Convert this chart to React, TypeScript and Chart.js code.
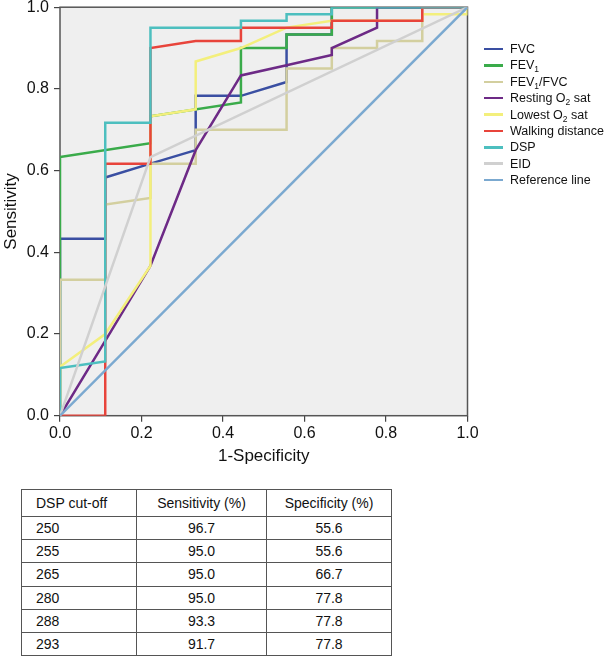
import React, { useEffect, useRef } from "react";
import { Chart, registerables } from "chart.js";

Chart.register(...registerables);

// ROC curve data (x = 1-Specificity, y = Sensitivity)
const fvcX = [0, 0, 0.111, 0.111, 0.222, 0.333, 0.333, 0.444, 0.556, 0.556, 0.667, 0.667, 1];
const fvcY = [0, 0.433, 0.433, 0.583, 0.617, 0.65, 0.783, 0.783, 0.817, 0.933, 0.933, 1, 1];

const fev1X = [0, 0, 0.222, 0.222, 0.444, 0.444, 0.556, 0.556, 0.667, 0.667, 1];
const fev1Y = [0, 0.633, 0.667, 0.733, 0.767, 0.9, 0.9, 0.933, 0.933, 1, 1];

const ratioX = [0, 0, 0.111, 0.111, 0.222, 0.222, 0.333, 0.333, 0.556, 0.556, 0.667, 0.667, 0.778, 0.778, 0.889, 0.889, 1];
const ratioY = [0, 0.333, 0.333, 0.517, 0.533, 0.617, 0.617, 0.7, 0.7, 0.85, 0.85, 0.9, 0.9, 0.917, 0.917, 1, 1];

const restX = [0, 0.111, 0.222, 0.333, 0.444, 0.556, 0.667, 0.667, 0.778, 0.778, 1];
const restY = [0, 0.183, 0.367, 0.65, 0.833, 0.858, 0.883, 0.9, 0.95, 1, 1];

const lowX = [0, 0, 0.111, 0.222, 0.222, 0.333, 0.333, 0.444, 0.556, 0.667, 0.889, 0.889, 1, 1];
const lowY = [0, 0.12, 0.2, 0.367, 0.733, 0.75, 0.867, 0.9, 0.95, 0.967, 0.967, 0.983, 0.983, 1];

const walkX = [0, 0.111, 0.111, 0.222, 0.222, 0.333, 0.444, 0.444, 0.667, 0.667, 0.889, 0.889, 1];
const walkY = [0, 0, 0.617, 0.617, 0.9, 0.917, 0.917, 0.95, 0.95, 0.967, 0.967, 1, 1];

const dspX = [0, 0, 0.111, 0.111, 0.222, 0.222, 0.444, 0.444, 0.556, 0.556, 0.667, 0.667, 1];
const dspY = [0, 0.117, 0.133, 0.717, 0.717, 0.95, 0.95, 0.967, 0.967, 0.983, 0.983, 1, 1];

const eidX = [0, 0.222, 1];
const eidY = [0, 0.633, 1];

const refX = [0, 1];
const refY = [0, 1];

const yTicks = [0, 0.2, 0.4, 0.6, 0.8, 1.0];

// Table data
const tableHeaders = ["DSP cut-off", "Sensitivity (%)", "Specificity (%)"];
const cutoffs = ["250", "255", "265", "280", "288", "293"];
const sensitivities = ["96.7", "95.0", "95.0", "95.0", "93.3", "91.7"];
const specificities = ["55.6", "55.6", "66.7", "77.8", "77.8", "77.8"];

type Series = { name: string; sub?: [string, string, string]; xs: number[]; ys: number[]; color: string };

const series: Series[] = [
  { name: "FVC", xs: fvcX, ys: fvcY, color: "#3a4fa2" },
  { name: "FEV", sub: ["FEV", "1", ""], xs: fev1X, ys: fev1Y, color: "#3aab4a" },
  { name: "FEV/FVC", sub: ["FEV", "1", "/FVC"], xs: ratioX, ys: ratioY, color: "#d3cf9f" },
  { name: "Resting O sat", sub: ["Resting O", "2", " sat"], xs: restX, ys: restY, color: "#6d2a86" },
  { name: "Lowest O sat", sub: ["Lowest O", "2", " sat"], xs: lowX, ys: lowY, color: "#f3ef7c" },
  { name: "Walking distance", xs: walkX, ys: walkY, color: "#e8443b" },
  { name: "DSP", xs: dspX, ys: dspY, color: "#4dbfbf" },
  { name: "EID", xs: eidX, ys: eidY, color: "#d0d0d0" },
  { name: "Reference line", xs: refX, ys: refY, color: "#7ba9d0" },
];

const FONT = "'Liberation Sans', Arial, Helvetica, sans-serif";

const framePlugin = {
  id: "frame",
  beforeDatasetsDraw(chart: any) {
    const { ctx, chartArea } = chart;
    const { left, top, right, bottom } = chartArea;
    ctx.save();
    ctx.fillStyle = "#efefef";
    ctx.fillRect(left, top, right - left, bottom - top);
    ctx.strokeStyle = "#555555";
    ctx.lineWidth = 1.5;
    ctx.strokeRect(left, top, right - left, bottom - top);
    ctx.restore();
  },
  afterDraw(chart: any) {
    const { ctx, chartArea } = chart;
    const { left, top, right, bottom } = chartArea;
    ctx.save();
    ctx.fillStyle = "#111";
    ctx.font = `17px ${FONT}`;
    ctx.textAlign = "center";
    ctx.textBaseline = "middle";
    ctx.fillText("1-Specificity", (left + right) / 2, 456);
    ctx.translate(11, (top + bottom) / 2);
    ctx.rotate(-Math.PI / 2);
    ctx.fillText("Sensitivity", 0, 0);
    ctx.restore();
  },
};

function ChartView() {
  const ref = useRef<HTMLCanvasElement>(null);
  useEffect(() => {
    if (!ref.current) return;
    const datasets = series.map((s, i) => ({
      label: s.name,
      data: s.xs.map((x, k) => ({ x, y: s.ys[k] })),
      borderColor: s.color,
      backgroundColor: s.color,
      borderWidth: 2.5,
      pointRadius: 0,
      showLine: true,
      tension: 0,
      fill: false,
      order: series.length - i,
    }));
    const chart = new Chart(ref.current, {
      type: "scatter",
      data: { datasets },
      plugins: [framePlugin],
      options: {
        animation: false,
        responsive: false,
        devicePixelRatio: 1,
        layout: { padding: { top: 7.2, right: 145.5, left: 0, bottom: 0 } },
        plugins: { legend: { display: false }, tooltip: { enabled: false } },
        scales: {
          x: {
            type: "linear",
            min: 0,
            max: 1,
            afterFit: (s: any) => {
              s.height = 54.3;
              s.paddingLeft = 0;
              s.paddingRight = 0;
            },
            afterBuildTicks: (s: any) => {
              s.ticks = yTicks.map((v) => ({ value: v }));
            },
            ticks: {
              font: { family: FONT, size: 16 },
              color: "#111",
              padding: 2,
              maxRotation: 0,
              callback: (v: any) => Number(v).toFixed(1),
            },
            grid: { drawOnChartArea: false, drawTicks: true, tickLength: 6, color: "#444", lineWidth: 1.2 },
            border: { display: false },
          },
          y: {
            type: "linear",
            min: 0,
            max: 1,
            afterFit: (s: any) => {
              s.width = 60;
              s.paddingTop = 0;
              s.paddingBottom = 0;
            },
            afterBuildTicks: (s: any) => {
              s.ticks = yTicks.map((v) => ({ value: v }));
            },
            ticks: {
              font: { family: FONT, size: 16 },
              color: "#111",
              padding: 5,
              callback: (v: any) => Number(v).toFixed(1),
            },
            grid: { drawOnChartArea: false, drawTicks: true, tickLength: 6, color: "#444", lineWidth: 1.2 },
            border: { display: false },
          },
        },
      },
    } as any);
    return () => chart.destroy();
  }, []);
  return <canvas ref={ref} width={613} height={470} style={{ display: "block", width: 613, height: 470 }} />;
}

function Legend() {
  return (
    <div style={{ position: "absolute", left: 484, top: 49 - 8.2, fontFamily: FONT, fontSize: 12.5, color: "#111" }}>
      {series.map((s) => (
        <div key={s.name} style={{ display: "flex", alignItems: "center", height: 16.4, whiteSpace: "nowrap" }}>
          <span style={{ display: "inline-block", width: 19, height: 2.5, background: s.color, marginRight: 7 }} />
          {s.sub ? (
            <span>
              {s.sub[0]}
              <span style={{ fontSize: 8.5, position: "relative", top: 3 }}>{s.sub[1]}</span>
              {s.sub[2]}
            </span>
          ) : (
            <span>{s.name}</span>
          )}
        </div>
      ))}
    </div>
  );
}

function Table() {
  const border = "1px solid #555";
  const cell = (text: string, first: boolean, header: boolean, key: string, w: number) => (
    <td
      key={key}
      style={{
        width: w,
        height: header ? 26.7 : 23.3,
        padding: 0,
        paddingLeft: first ? 14 : 0,
        textAlign: first ? "left" : "center",
        borderRight: border,
        borderBottom: border,
        boxSizing: "border-box",
        verticalAlign: "middle",
      }}
    >
      {text}
    </td>
  );
  const widths = [115, 130, 125];
  return (
    <table
      style={{
        position: "absolute",
        left: 21,
        top: 489,
        width: 370,
        borderCollapse: "collapse",
        borderSpacing: 0,
        fontFamily: FONT,
        fontSize: 14,
        color: "#111",
        borderTop: "1.5px solid #555",
        borderLeft: "1.5px solid #555",
        tableLayout: "fixed",
      }}
    >
      <tbody>
        <tr>{tableHeaders.map((h, i) => cell(h, i === 0, true, "h" + i, widths[i]))}</tr>
        {cutoffs.map((c, r) => (
          <tr key={c}>
            {cell(c, true, false, "a" + r, widths[0])}
            {cell(sensitivities[r], false, false, "b" + r, widths[1])}
            {cell(specificities[r], false, false, "c" + r, widths[2])}
          </tr>
        ))}
      </tbody>
    </table>
  );
}

export default function App() {
  return (
    <div style={{ position: "absolute", left: 0, top: 0, width: 613, height: 656, background: "#fff", overflow: "hidden" }}>
      <ChartView />
      <Legend />
      <Table />
    </div>
  );
}
